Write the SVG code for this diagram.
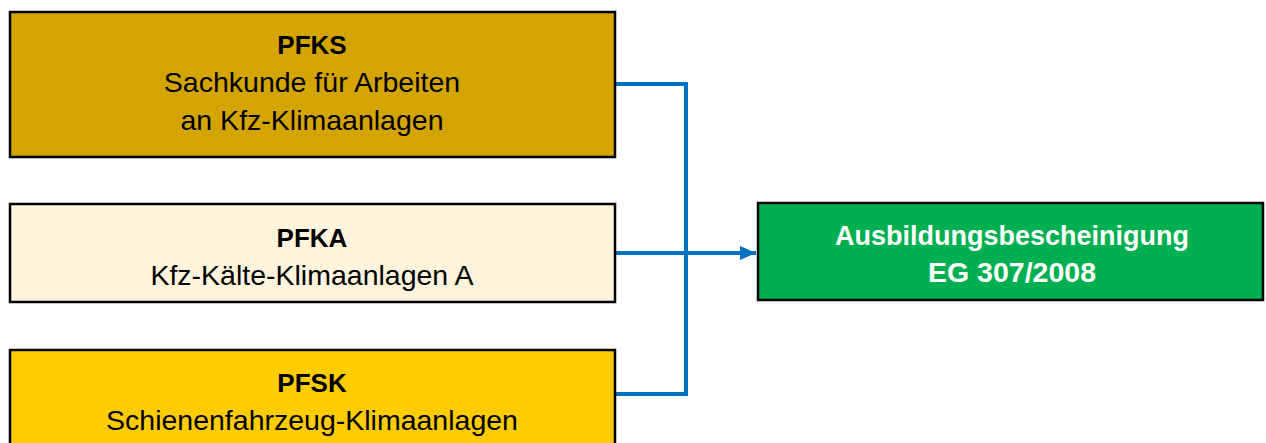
<svg xmlns="http://www.w3.org/2000/svg" width="1266" height="443" viewBox="0 0 1266 443">
<defs>
<style>
.box{stroke:#000;stroke-width:2.5}
.t{font-family:"Liberation Sans",Arial,sans-serif;font-size:28.5px;text-anchor:middle;fill:#000}
.b{font-weight:bold;font-size:26px}
.w{fill:#fff}
.c{fill:none;stroke:#0070C0;stroke-width:4}
</style>
<marker id="ah" markerWidth="16" markerHeight="16" viewBox="0 0 16 16" refX="16" refY="8" orient="auto" markerUnits="userSpaceOnUse">
<path d="M0,1 L16,8 L0,15 Z" fill="#0070C0"/>
</marker>
</defs>
<rect width="1266" height="443" fill="#fff"/>
<g id="connectors">
<path class="c" d="M615,84 H686 V394 H615"/>
<path class="c" d="M615,253 H756" marker-end="url(#ah)"/>
</g>
<g id="pfks">
<rect class="box" x="10" y="12" width="605" height="145" fill="#D4A500"/>
<text class="t b" x="312" y="54">PFKS</text>
<text class="t" x="312" y="92">Sachkunde für Arbeiten</text>
<text class="t" x="312" y="130">an Kfz-Klimaanlagen</text>
</g>
<g id="pfka">
<rect class="box" x="10" y="204" width="605" height="98" fill="#FFF5DC"/>
<text class="t b" x="312" y="247">PFKA</text>
<text class="t" x="312" y="285">Kfz-Kälte-Klimaanlagen A</text>
</g>
<g id="pfsk">
<rect class="box" x="10" y="350" width="605" height="110" fill="#FFCC00"/>
<text class="t b" x="312" y="392">PFSK</text>
<text class="t" x="312" y="430">Schienenfahrzeug-Klimaanlagen</text>
</g>
<g id="ausbildung">
<rect class="box" x="758" y="203" width="505" height="97" fill="#00B050"/>
<text class="t b w" x="1012" y="245" style="font-size:27px">Ausbildungsbescheinigung</text>
<text class="t b w" x="1012" y="282" style="font-size:28.5px">EG 307/2008</text>
</g>
</svg>
